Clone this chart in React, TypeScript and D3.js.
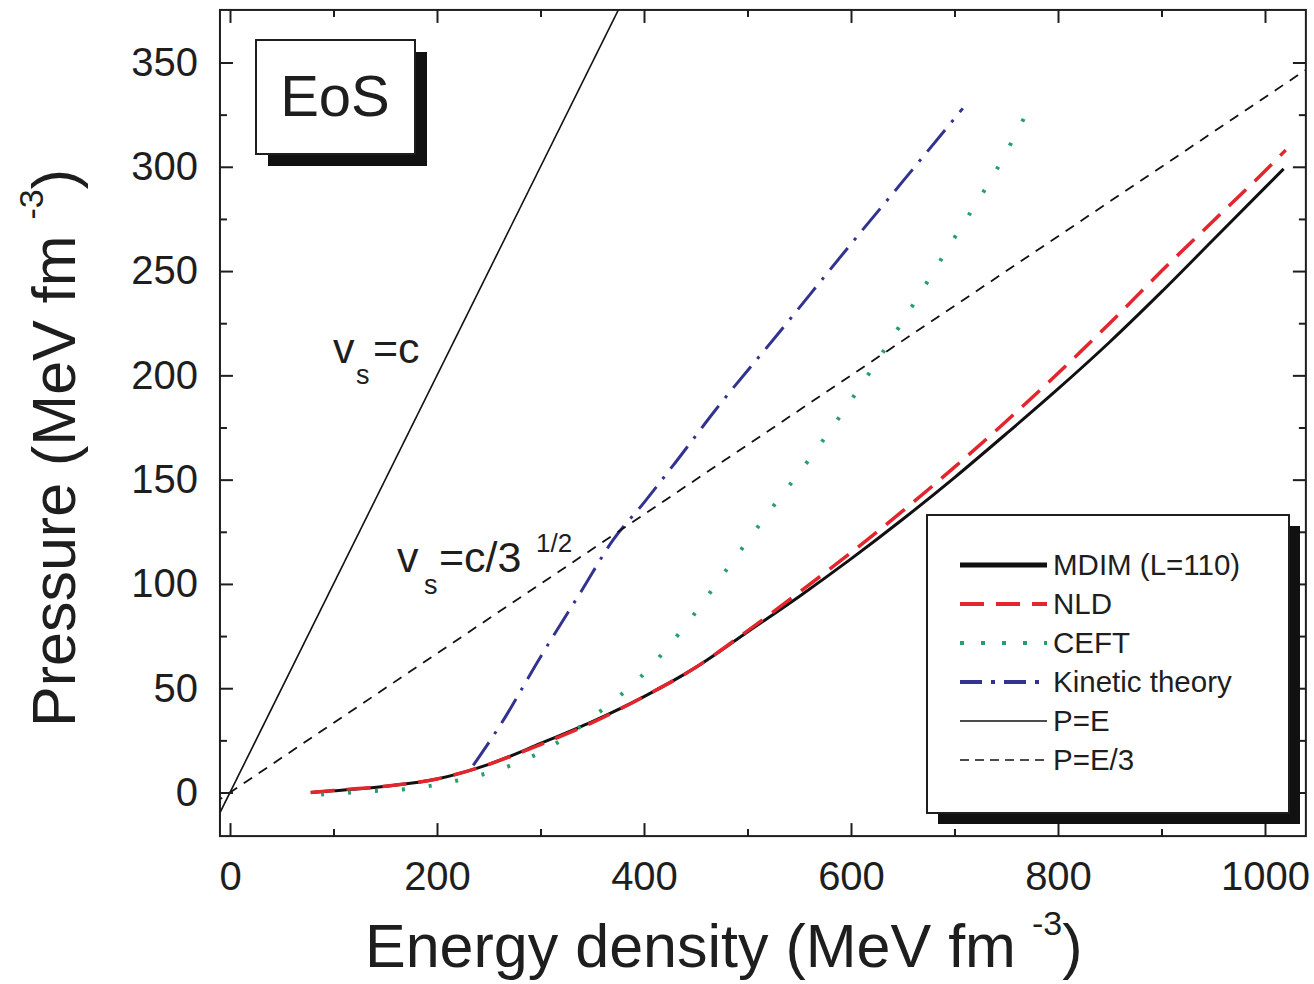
import React, { useEffect, useRef } from "react"
import * as d3 from "d3"

// tick values
const energyTicks = [0, 200, 400, 600, 800, 1000]
const energyMinor = [100, 300, 500, 700, 900]
const pressureTicks = [0, 50, 100, 150, 200, 250, 300, 350]
const pressureMinor = [25, 75, 125, 175, 225, 275, 325]

// curves, [energy density, pressure]
const mdim: [number, number][] = [
  [78, 0], [100, 0.8], [150, 3], [200, 6.5], [250, 13.5], [300, 23.5], [350, 34],
  [400, 46], [450, 60], [500, 77], [550, 94], [600, 112], [650, 131], [700, 151],
  [750, 172], [800, 193.5], [850, 216], [900, 240], [950, 265], [1000, 290], [1018, 299]
]
const nld: [number, number][] = [
  [78, 0], [100, 1], [150, 3], [200, 6.5], [250, 13.5], [300, 23], [350, 33.5],
  [400, 46], [450, 60], [500, 77.5], [550, 96], [600, 115], [650, 135], [700, 156],
  [750, 178], [800, 201], [850, 225], [900, 250], [950, 274], [1000, 298], [1020, 308]
]
const ceft: [number, number][] = [
  [88, -1], [132, 0.5], [177, 2], [222, 6], [266, 12], [310, 22], [350, 36],
  [400, 57], [440, 80], [480, 107], [520, 134], [560, 160], [600, 188], [650, 226],
  [700, 266], [740, 298], [771, 327]
]
const kinetic: [number, number][] = [
  [235, 13], [262, 33], [300, 65], [340, 97], [370, 121], [400, 139], [430, 158],
  [470, 184], [528, 219], [600, 263], [650, 293], [708, 328]
]
const pEqualsE: [number, number][] = [[-30, -30], [400, 400]]
const pEqualsE3: [number, number][] = [[-30, -10], [1050, 350]]

const FONT = "'Liberation Sans', Arial, Helvetica, sans-serif"
const INK = "#1e1e1e"

const series = [
  { name: "MDIM (L=110)", data: mdim, color: "#111", width: 3, dash: "", legendWidth: 5 },
  { name: "NLD", data: nld, color: "#e3262d", width: 3.5, dash: "24 12", legendWidth: 4 },
  { name: "CEFT", data: ceft, color: "#25a06a", width: 4, dash: "3 24", legendWidth: 4, legendDash: "4 17" },
  { name: "Kinetic theory", data: kinetic, color: "#32338f", width: 3, dash: "28 10 3 10", legendWidth: 4, legendDash: "22 9 4 9" },
  { name: "P=E", data: pEqualsE, color: "#111", width: 1.6, dash: "", legendWidth: 1.6 },
  { name: "P=E/3", data: pEqualsE3, color: "#111", width: 1.8, dash: "10 8", legendWidth: 1.6, legendDash: "9 6" }
]

const x = d3.scaleLinear().domain([0, 1000]).range([230, 1265])
const y = d3.scaleLinear().domain([0, 350]).range([792.5, 62.5])

const left = x(-9.7)
const right = x(1039.5)
const top = y(375.2)
const bottom = y(-20.9)

function Axis(props: any) {
  const ref = useRef<SVGGElement>(null)
  useEffect(() => {
    const makers: any = { bottom: d3.axisBottom, top: d3.axisTop, left: d3.axisLeft, right: d3.axisRight }
    const gen = makers[props.orient](props.scale)
      .tickValues(props.values)
      .tickSizeInner(-props.size)
      .tickSizeOuter(0)
      .tickPadding(props.padding || 3)
      .tickFormat(props.labels ? d3.format("d") : () => "")
    const g = d3.select(ref.current).call(gen)
    g.select(".domain").remove()
    g.selectAll("line").attr("stroke", INK).attr("stroke-width", 2)
    g.selectAll("text")
      .attr("font-size", 40)
      .attr("font-family", FONT)
      .attr("fill", INK)
  }, [])
  return <g ref={ref} transform={props.transform} />
}

export default function App() {
  const line = d3.line<[number, number]>()
    .x(d => x(d[0]))
    .y(d => y(d[1]))
    .curve(d3.curveMonotoneX)
  const legendX = 927
  const legendY = 515
  const legendW = 362
  const legendH = 298
  const rowY = (i: number) => 565 + i * 39

  return (
    <svg width={1314} height={984} style={{ position: "absolute", left: 0, top: 0, background: "#fff" }}>
      <defs>
        <clipPath id="plot">
          <rect x={left} y={top} width={right - left} height={bottom - top} />
        </clipPath>
      </defs>

      <g clipPath="url(#plot)">
        {series.map(s => (
          <path
            key={s.name}
            d={line(s.data) || ""}
            fill="none"
            stroke={s.color}
            strokeWidth={s.width}
            strokeDasharray={s.dash}
          />
        ))}
      </g>

      <rect x={left} y={top} width={right - left} height={bottom - top} fill="none" stroke={INK} strokeWidth={2} />

      <Axis orient="bottom" scale={x} values={energyTicks} size={13} labels padding={26} transform={`translate(0,${bottom})`} />
      <Axis orient="bottom" scale={x} values={energyMinor} size={7} transform={`translate(0,${bottom})`} />
      <Axis orient="top" scale={x} values={energyTicks} size={13} transform={`translate(0,${top})`} />
      <Axis orient="top" scale={x} values={energyMinor} size={7} transform={`translate(0,${top})`} />
      <Axis orient="left" scale={y} values={pressureTicks} size={13} labels padding={22} transform={`translate(${left},0)`} />
      <Axis orient="left" scale={y} values={pressureMinor} size={7} transform={`translate(${left},0)`} />
      <Axis orient="right" scale={y} values={pressureTicks} size={13} transform={`translate(${right},0)`} />
      <Axis orient="right" scale={y} values={pressureMinor} size={7} transform={`translate(${right},0)`} />

      {/* EoS label box */}
      <rect x={268} y={52} width={159} height={114} fill="#111" />
      <rect x={256} y={40} width={159} height={114} fill="#fff" stroke={INK} strokeWidth={2} />
      <text x={335} y={116} textAnchor="middle" fontFamily={FONT} fontSize={58} fill={INK}>EoS</text>

      {/* annotations */}
      <text x={333} y={363} fontFamily={FONT} fontSize={43} fill={INK}>v</text>
      <text x={356} y={384} fontFamily={FONT} fontSize={27} fill={INK}>s</text>
      <text x={373} y={363} fontFamily={FONT} fontSize={43} fill={INK}>=c</text>

      <text x={397} y={572} fontFamily={FONT} fontSize={43} fill={INK}>v</text>
      <text x={424} y={594} fontFamily={FONT} fontSize={27} fill={INK}>s</text>
      <text x={439} y={572} fontFamily={FONT} fontSize={43} fill={INK}>=c/3</text>
      <text x={536} y={552} fontFamily={FONT} fontSize={26} fill={INK}>1/2</text>

      {/* legend */}
      <rect x={legendX + 11} y={legendY + 11} width={legendW} height={legendH} fill="#111" />
      <rect x={legendX} y={legendY} width={legendW} height={legendH} fill="#fff" stroke={INK} strokeWidth={2} />
      {series.map((s, i) => (
        <g key={s.name}>
          <line
            x1={960}
            x2={1047}
            y1={rowY(i)}
            y2={rowY(i)}
            stroke={s.color}
            strokeWidth={s.legendWidth}
            strokeDasharray={s.legendDash || s.dash}
          />
          <text x={1053} y={rowY(i) + 10} fontFamily={FONT} fontSize={29.5} fill={INK}>{s.name}</text>
        </g>
      ))}

      {/* axis titles */}
      <text x={365} y={967} fontFamily={FONT} fontSize={61} fill={INK}>
        Energy density (MeV fm
        <tspan dx={16} dy={-32} fontSize={34}>-3</tspan>
        <tspan dy={32} fontSize={61}>)</tspan>
      </text>
      <text transform="translate(75,727) rotate(-90)" fontFamily={FONT} fontSize={61} fill={INK}>
        Pressure (MeV fm
        <tspan dx={16} dy={-32} fontSize={34}>-3</tspan>
        <tspan dy={32} fontSize={61}>)</tspan>
      </text>
    </svg>
  )
}
